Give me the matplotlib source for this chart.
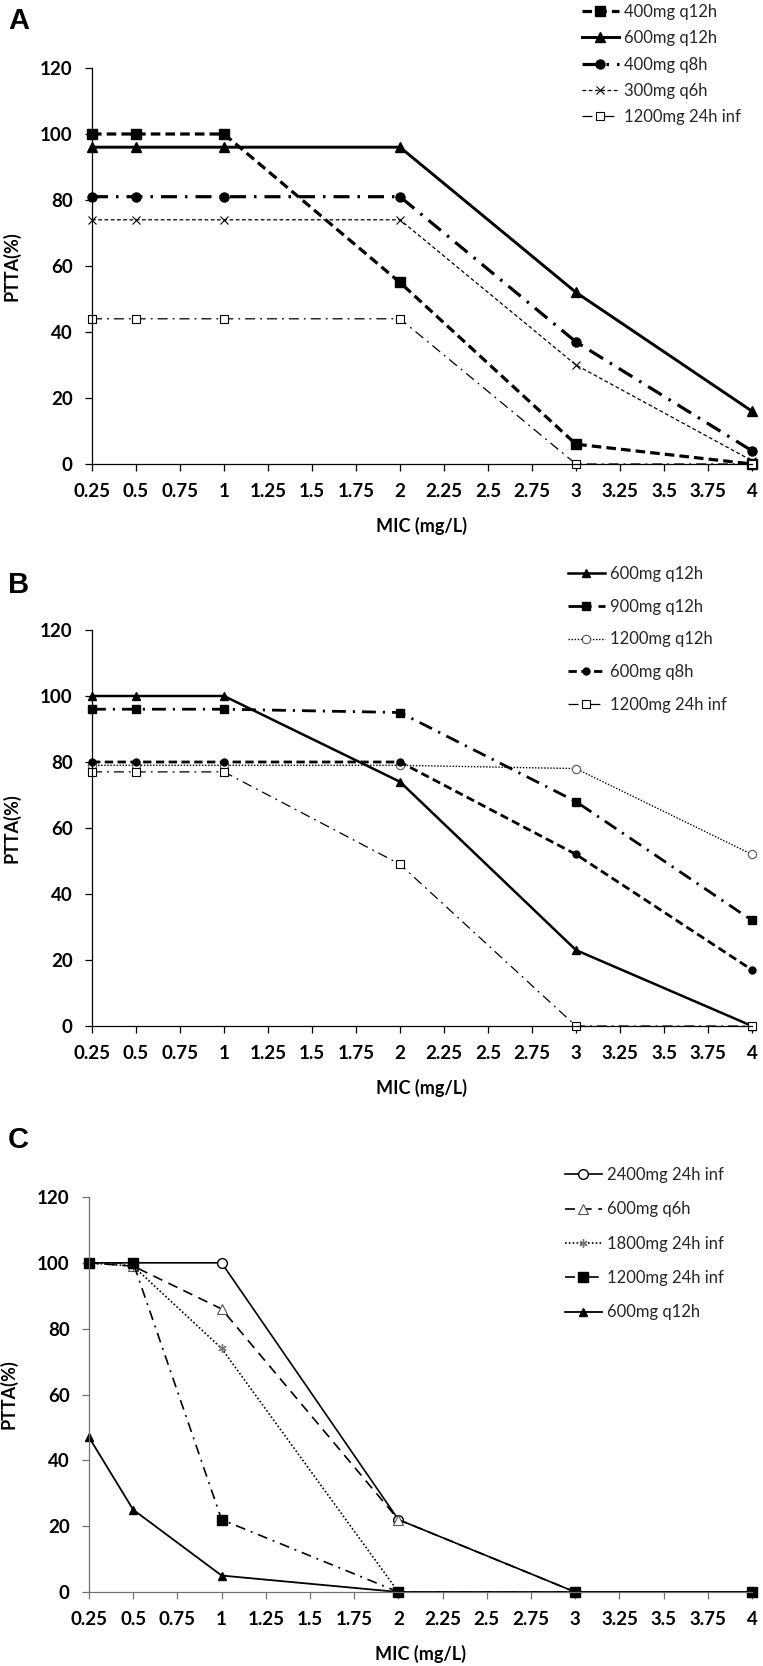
#!/usr/bin/env python3
from __future__ import annotations

import matplotlib

matplotlib.use("Agg")
import matplotlib.pyplot as plt
from matplotlib.ticker import FuncFormatter, MultipleLocator

# MIC values shared by all three panels
mic = [0.25, 0.5, 1, 2, 3, 4]

# panel A
a_labels = ["400mg q12h", "600mg q12h", "400mg q8h", "300mg q6h", "1200mg 24h inf"]
a_400_q12h = [100, 100, 100, 55, 6, 0]
a_600_q12h = [96, 96, 96, 96, 52, 16]
a_400_q8h = [81, 81, 81, 81, 37, 4]
a_300_q6h = [74, 74, 74, 74, 30, 1]
a_1200_inf = [44, 44, 44, 44, 0, 0]

# panel B
b_labels = ["600mg q12h", "900mg q12h", "1200mg q12h", "600mg q8h", "1200mg 24h inf"]
b_600_q12h = [100, 100, 100, 74, 23, 0]
b_900_q12h = [96, 96, 96, 95, 68, 32]
b_1200_q12h = [79, 79, 79, 79, 78, 52]
b_600_q8h = [80, 80, 80, 80, 52, 17]
b_1200_inf = [77, 77, 77, 49, 0, 0]

# panel C
c_labels = ["2400mg 24h inf", "600mg q6h", "1800mg 24h inf", "1200mg 24h inf", "600mg q12h"]
c_2400_inf = [100, 100, 100, 22, 0, 0]
c_600_q6h = [100, 99, 86, 22, 0, 0]
c_1800_inf = [100, 99, 74, 0, 0, 0]
c_1200_inf = [100, 100, 22, 0, 0, 0]
c_600_q12h = [47, 25, 5, 0, 0, 0]

TEXT_FONT = ["Lato", "DejaVu Sans"]
W, H = 763, 1666


def px_box(left, top, right, bottom):
    return [left / W, 1 - bottom / H, (right - left) / W, (bottom - top) / H]


def style_axes(ax, spine_color):
    for side in ("top", "right"):
        ax.spines[side].set_visible(False)
    for side in ("left", "bottom"):
        ax.spines[side].set_color(spine_color)
        ax.spines[side].set_linewidth(0.9)
    ax.set_xlim(0.25, 4)
    ax.set_ylim(0, 120)
    ax.xaxis.set_major_locator(MultipleLocator(0.25))
    ax.yaxis.set_major_locator(MultipleLocator(20))
    ax.xaxis.set_major_formatter(FuncFormatter(lambda v, _: f"{v:g}"))
    ax.tick_params(axis="both", direction="out", length=5, width=0.9,
                   color=spine_color, labelsize=13.5, pad=9)
    for lab in ax.get_xticklabels() + ax.get_yticklabels():
        lab.set_family(TEXT_FONT)
        lab.set_fontweight("bold")
    ax.set_xlabel("MIC (mg/L)", family=TEXT_FONT, fontweight="bold", fontsize=13, labelpad=12)
    ax.set_ylabel("PTTA(%)", family=TEXT_FONT, fontweight="bold", fontsize=13, labelpad=14)


def add_legend(fig, ax, x_px, y_px, spacing):
    leg = ax.legend(loc="upper left", bbox_to_anchor=(x_px / W, 1 - y_px / H),
                    bbox_transform=fig.transFigure, frameon=False, borderpad=0,
                    borderaxespad=0, handlelength=2.2, handletextpad=0.3,
                    labelspacing=spacing, prop={"family": TEXT_FONT, "size": 12})
    for t in leg.get_texts():
        t.set_color("#262626")
    return leg


def main() -> None:
    fig = plt.figure(figsize=(W / 100, H / 100), dpi=100)

    # ---- A
    ax = fig.add_axes(px_box(92, 68, 752, 464))
    kw = dict(color="black", clip_on=False)
    ax.plot(mic, a_400_q12h, ls=(0, (3, 1.6)), lw=2.3, marker="s", ms=7, label=a_labels[0], **kw)
    ax.plot(mic, a_600_q12h, ls="-", lw=2.1, marker="^", ms=7, label=a_labels[1], **kw)
    ax.plot(mic, a_400_q8h, ls=(0, (5, 2.5, 0.8, 2.5)), lw=2.3, marker="o", ms=6.5, label=a_labels[2], **kw)
    ax.plot(mic, a_300_q6h, ls=(0, (3, 2)), lw=0.9, marker="x", ms=6, mew=0.8, label=a_labels[3], **kw)
    ax.plot(mic, a_1200_inf, ls=(0, (8, 4, 1.5, 4)), lw=0.9, marker="s", ms=6, mfc="white",
            mew=0.8, label=a_labels[4], **kw)
    style_axes(ax, "black")
    add_legend(fig, ax, 582, 4, 0.62)
    fig.text(8 / W, 1 - 21 / H, "A", family="Liberation Sans", fontweight="bold",
             fontsize=21, va="center", ha="left")

    # ---- B
    ax = fig.add_axes(px_box(92, 630, 752, 1026))
    ax.plot(mic, b_600_q12h, ls="-", lw=1.8, marker="^", ms=5.5, label=b_labels[0], **kw)
    ax.plot(mic, b_900_q12h, ls=(0, (5, 2.5, 0.8, 2.5)), lw=2.0, marker="s", ms=5.5, label=b_labels[1], **kw)
    ax.plot(mic, b_1200_q12h, ls=(0, (1, 1.2)), lw=1.0, marker="o", ms=6, mfc="white", mec="#555555",
            mew=0.8, label=b_labels[2], **kw)
    ax.plot(mic, b_600_q8h, ls=(0, (3, 1.6)), lw=2.0, marker="o", ms=5, label=b_labels[3], **kw)
    ax.plot(mic, b_1200_inf, ls=(0, (8, 4, 1.5, 4)), lw=0.9, marker="s", ms=6, mfc="white",
            mew=0.8, label=b_labels[4], **kw)
    style_axes(ax, "black")
    add_legend(fig, ax, 568, 566, 1.0)
    fig.text(8 / W, 1 - 585 / H, "B", family="Liberation Sans", fontweight="bold",
             fontsize=21, va="center", ha="left")

    # ---- C
    ax = fig.add_axes(px_box(89, 1197, 752, 1592))
    ax.plot(mic, c_2400_inf, ls="-", lw=1.2, marker="o", ms=7, mfc="white", mew=1.0,
            label=c_labels[0], **kw)
    ax.plot(mic, c_600_q6h, ls=(0, (6, 4)), lw=1.2, marker="^", ms=6.5, mfc="white", mec="#555555",
            mew=0.8, label=c_labels[1], **kw)
    ax.plot(mic, c_1800_inf, ls=(0, (1, 1.3)), lw=1.2, marker=(6, 2, 0), ms=6, mec="#777777",
            label=c_labels[2], **kw)
    ax.plot(mic, c_1200_inf, ls=(0, (6, 3.5, 1.2, 3.5)), lw=1.2, marker="s", ms=6.5,
            label=c_labels[3], **kw)
    ax.plot(mic, c_600_q12h, ls="-", lw=1.3, marker="^", ms=6, label=c_labels[4], **kw)
    style_axes(ax, "#707070")
    add_legend(fig, ax, 565, 1167, 1.1)
    fig.text(8 / W, 1 - 1140 / H, "C", family="Liberation Sans", fontweight="bold",
             fontsize=21, va="center", ha="left")

    fig.savefig("out.png", dpi=100)
    plt.close(fig)


if __name__ == "__main__":
    main()
